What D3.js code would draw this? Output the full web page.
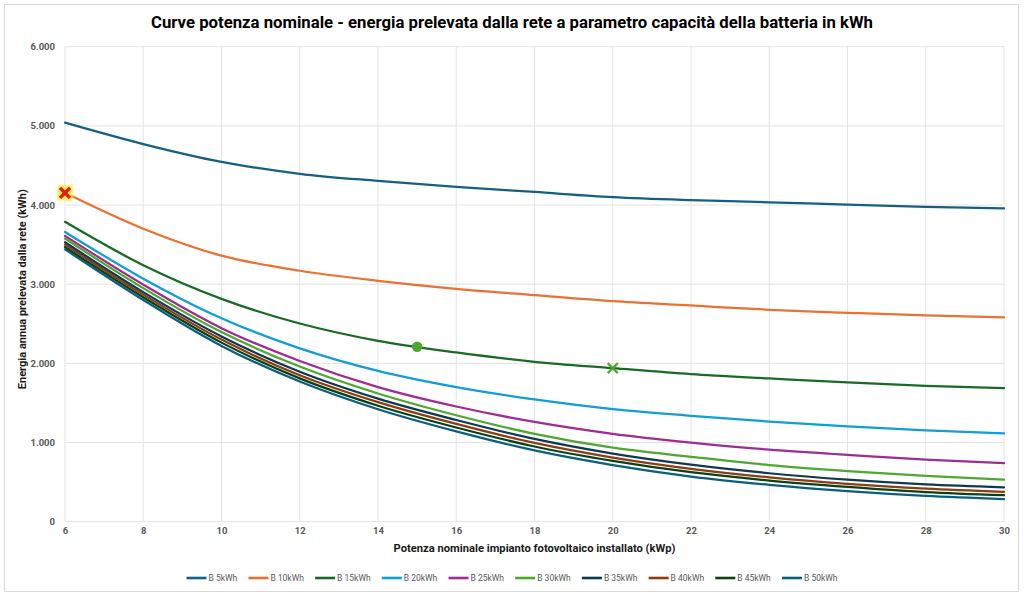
<!DOCTYPE html>
<html><head><meta charset="utf-8">
<script src="https://cdn.jsdelivr.net/npm/d3@7"></script>
<style>
html,body{margin:0;padding:0;background:#fff;}
svg{display:block;}
text{font-family:"Liberation Sans Narrow","Roboto","Liberation Sans",sans-serif;}
</style></head>
<body>
<svg id="c" width="1024" height="596"></svg>
<script>
const title = "Curve potenza nominale - energia prelevata dalla rete a parametro capacità della batteria in kWh";
const xTitle = "Potenza nominale impianto fotovoltaico installato (kWp)";
const yTitle = "Energia annua prelevata dalla rete (kWh)";

const xValues = [6, 8, 10, 12, 14, 16, 18, 20, 22, 24, 26, 28, 30];
const xTicks = [6, 8, 10, 12, 14, 16, 18, 20, 22, 24, 26, 28, 30];
const yTicks = [0, 1000, 2000, 3000, 4000, 5000, 6000];

const seriesNames = ["B 5kWh","B 10kWh","B 15kWh","B 20kWh","B 25kWh","B 30kWh","B 35kWh","B 40kWh","B 45kWh","B 50kWh"];
const seriesColors = ["#156082","#E97132","#196B24","#0F9ED5","#A02B93","#4EA72E","#0D3A4E","#8C3D14","#0F4015","#095F80"];

const B5  = [5040, 4770, 4545, 4395, 4305, 4230, 4165, 4100, 4062, 4035, 4005, 3978, 3958];
const B10 = [4154, 3700, 3360, 3170, 3043, 2942, 2862, 2785, 2731, 2677, 2639, 2605, 2580];
const B15 = [3788, 3240, 2815, 2504, 2285, 2138, 2020, 1940, 1864, 1810, 1759, 1717, 1688];
const B20 = [3660, 3070, 2570, 2190, 1905, 1700, 1545, 1423, 1338, 1265, 1205, 1155, 1115];
const B25 = [3611, 2995, 2445, 2030, 1700, 1455, 1260, 1110, 1000, 910, 845, 785, 740];
const B30 = [3577, 2950, 2395, 1960, 1620, 1345, 1110, 935, 820, 715, 640, 580, 530];
const B35 = [3530, 2900, 2340, 1895, 1555, 1285, 1045, 860, 720, 612, 530, 470, 433];
const B40 = [3500, 2868, 2300, 1850, 1510, 1235, 995, 810, 668, 560, 478, 418, 378];
const B45 = [3470, 2835, 2262, 1810, 1465, 1190, 950, 768, 625, 520, 440, 375, 335];
const B50 = [3440, 2800, 2220, 1770, 1420, 1140, 900, 715, 570, 465, 385, 325, 285];
const seriesValues = [B5, B10, B15, B20, B25, B30, B35, B40, B45, B50];

// highlighted points
const markerX = [6, 15, 20];
const markerY = [4154, 2210, 1940];
const markerType = ["starX", "circle", "x"];

const svg = d3.select("#c");
const m = {left: 65, right: 1004, top: 46.7, bottom: 521.7};

svg.append("rect").attr("x",4.5).attr("y",4.5).attr("width",1014).attr("height",587)
  .attr("fill","#fff").attr("stroke","#d9d9d9").attr("stroke-width",1);

const x = d3.scaleLinear().domain([6,30]).range([m.left, m.right]);
const y = d3.scaleLinear().domain([0,6000]).range([m.bottom, m.top]);

// gridlines
const grid = svg.append("g");
grid.selectAll("line.h").data(yTicks).join("line")
  .attr("x1", m.left).attr("x2", m.right)
  .attr("y1", d=>y(d)).attr("y2", d=>y(d))
  .attr("stroke","#e3e3e3").attr("stroke-width",1);
grid.selectAll("line.v").data(xTicks).join("line")
  .attr("x1", d=>x(d)).attr("x2", d=>x(d))
  .attr("y1", m.top).attr("y2", m.bottom)
  .attr("stroke","#e3e3e3").attr("stroke-width",1);

// axes
const fmt = d => d3.format(",")(d).replace(/,/g, ".");
const yAxis = d3.axisLeft(y).tickValues(yTicks).tickFormat(fmt).tickSize(0).tickPadding(0);
const gy = svg.append("g").attr("transform", `translate(${m.left-10},0)`).call(yAxis);
gy.select(".domain").remove();
gy.selectAll("text").attr("fill","#595959").attr("font-size","9.5px").attr("font-weight","bold")
  .style("font-family","'Liberation Sans Narrow','Roboto',sans-serif");

const xAxis = d3.axisBottom(x).tickValues(xTicks).tickFormat(d3.format("d")).tickSize(0).tickPadding(0);
const gx = svg.append("g").attr("transform", `translate(0,${m.bottom+6})`).call(xAxis);
gx.select(".domain").remove();
gx.selectAll("text").attr("fill","#595959").attr("font-size","9.5px").attr("font-weight","bold")
  .style("font-family","'Liberation Sans Narrow','Roboto',sans-serif");

// title
svg.append("text").attr("x", 512).attr("y", 28).attr("text-anchor","middle")
  .attr("font-size","17px").attr("font-weight","bold").attr("fill","#000")
  .attr("textLength", 722).attr("lengthAdjust","spacingAndGlyphs").text(title);

svg.append("text").attr("x", (m.left+m.right)/2).attr("y", 552).attr("text-anchor","middle")
  .attr("font-size","11px").attr("font-weight","bold").attr("fill","#1a1a1a")
  .attr("textLength", 282).attr("lengthAdjust","spacingAndGlyphs").text(xTitle);

svg.append("text").attr("transform", `translate(26,${(m.top+m.bottom)/2+5}) rotate(-90)`)
  .attr("text-anchor","middle")
  .attr("font-size","11px").attr("font-weight","bold").attr("fill","#1a1a1a")
  .attr("textLength", 200).attr("lengthAdjust","spacingAndGlyphs").text(yTitle);

// lines
const line = d3.line().x(d=>x(d[0])).y(d=>y(d[1])).curve(d3.curveMonotoneX);
const lines = svg.append("g");
const drawOrder = d3.range(seriesValues.length).reverse();
drawOrder.forEach(i=>{
  lines.append("path")
    .datum(xValues.map((xv,j)=>[xv, seriesValues[i][j]]))
    .attr("d", line).attr("fill","none")
    .attr("stroke", seriesColors[i]).attr("stroke-width", 2.25)
    .attr("stroke-linejoin","round").attr("stroke-linecap","round");
});

// markers
const defs = svg.append("defs");
defs.append("filter").attr("id","glow").attr("x","-50%").attr("y","-50%").attr("width","200%").attr("height","200%")
  .append("feGaussianBlur").attr("stdDeviation", 1.2);
const mk = svg.append("g");
markerX.forEach((mx,i)=>{
  const cx = x(mx), cy = y(markerY[i]);
  const t = markerType[i];
  if (t === "starX") {
    mk.append("rect").attr("x",cx-7.5).attr("y",cy-7.5).attr("width",15).attr("height",15)
      .attr("fill","#FFE94D").attr("filter","url(#glow)");
    mk.append("path").attr("d",`M${cx-5},${cy-5}L${cx+5},${cy+5}M${cx+5},${cy-5}L${cx-5},${cy+5}`)
      .attr("stroke","#E8141B").attr("stroke-width",3.4);
  } else if (t === "circle") {
    mk.append("circle").attr("cx",cx).attr("cy",cy).attr("r",5.2).attr("fill","#4EA72E");
  } else {
    mk.append("path").attr("d",`M${cx-5},${cy-5}L${cx+5},${cy+5}M${cx+5},${cy-5}L${cx-5},${cy+5}`)
      .attr("stroke","#4EA72E").attr("stroke-width",2.2);
  }
});

// legend
const leg = svg.append("g").attr("transform","translate(0,578)");
const items = [];
seriesNames.forEach((n,i)=>{
  const g = leg.append("g");
  g.append("line").attr("x1",0).attr("x2",20).attr("y1",0).attr("y2",0)
    .attr("stroke",seriesColors[i]).attr("stroke-width",2.6);
  const t = g.append("text").attr("x",22).attr("y",3).attr("font-size","8.5px")
    .attr("fill","#595959").text(n);
  const w = 22 + t.node().getComputedTextLength();
  items.push({g, w});
});
const gap = 11.2;
const total = d3.sum(items, d=>d.w) + gap*(items.length-1);
let lx = 512 - total/2;
items.forEach(it=>{ it.g.attr("transform",`translate(${lx},0)`); lx += it.w + gap; });
</script>
</body></html>
